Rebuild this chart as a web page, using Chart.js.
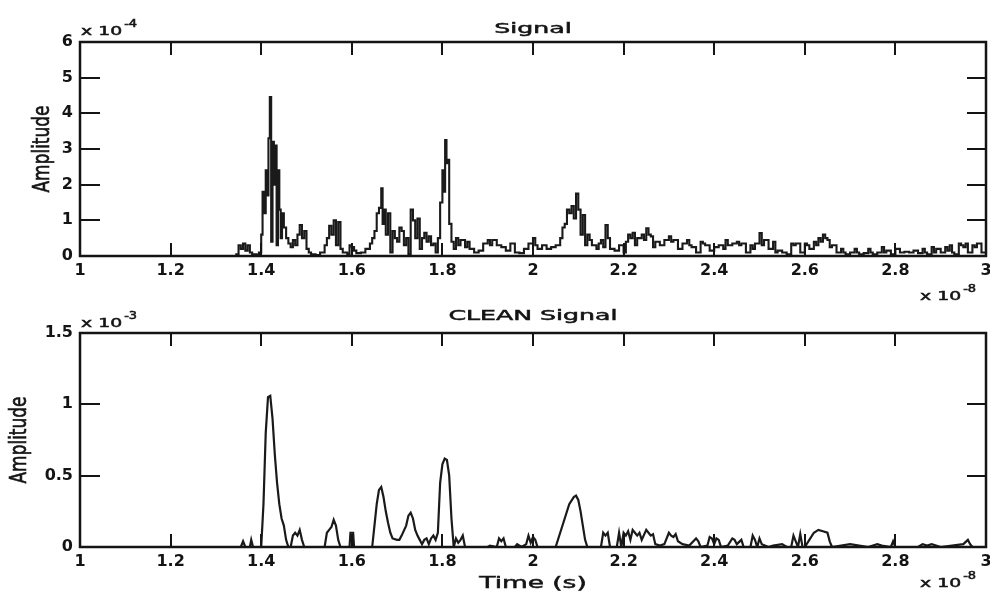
<!DOCTYPE html>
<html>
<head>
<meta charset="utf-8">
<script src="https://cdn.jsdelivr.net/npm/chart.js@4.4.0/dist/chart.umd.min.js"></script>
<style>
    html, body { margin: 0; padding: 0; background: #fff; width: 990px; height: 595px; overflow: hidden; }
    .box { position: absolute; left: 0; width: 1000px; }
</style>
</head>
<body>
<div class="box" style="top:0;height:305px"><canvas id="signal"></canvas></div>
<div class="box" style="top:290px;height:305px"><canvas id="clean"></canvas></div>
<script>
'use strict'
// time in units of 1e-8 s
var xTicks = [1, 1.2, 1.4, 1.6, 1.8, 2, 2.2, 2.4, 2.6, 2.8, 3];
var signalYTicks = [0, 1, 2, 3, 4, 5, 6];          // x 1e-4
var cleanYTicks = [0, 0.5, 1, 1.5];                // x 1e-3

/* raw signal (amplitude x 1e-4) */
var signalTime = [
    1.00, 1.34, 1.345, 1.35, 1.355, 1.36, 1.365, 1.37, 1.375, 1.38, 1.39, 1.395,
    1.40, 1.403, 1.407, 1.41, 1.413, 1.416, 1.419, 1.422, 1.425, 1.428, 1.431, 1.434, 1.437,
    1.44, 1.443, 1.446, 1.45, 1.455, 1.46, 1.465, 1.47, 1.475, 1.48, 1.485, 1.49, 1.495,
    1.50, 1.505, 1.51, 1.52, 1.53, 1.54, 1.545, 1.55, 1.555, 1.56, 1.565, 1.57, 1.575,
    1.58, 1.59, 1.595, 1.60, 1.605, 1.61, 1.62, 1.63, 1.64, 1.645, 1.65, 1.655, 1.66,
    1.665, 1.668, 1.672, 1.675, 1.68, 1.685, 1.69, 1.695, 1.70, 1.705, 1.71, 1.715, 1.72,
    1.725, 1.73, 1.735, 1.74, 1.745, 1.75, 1.755, 1.76, 1.765, 1.77, 1.775, 1.78, 1.785,
    1.79, 1.795, 1.80, 1.803, 1.806, 1.809, 1.812, 1.815, 1.82, 1.825, 1.83, 1.835, 1.84,
    1.85, 1.855, 1.86, 1.87, 1.88, 1.89, 1.90, 1.905, 1.91, 1.92, 1.93, 1.94, 1.95, 1.96,
    1.97, 1.98, 1.99, 2.00, 2.005, 2.01, 2.02, 2.03, 2.04, 2.05, 2.06, 2.065, 2.07, 2.075,
    2.08, 2.085, 2.09, 2.095, 2.10, 2.105, 2.11, 2.115, 2.12, 2.125, 2.13, 2.14, 2.145,
    2.15, 2.155, 2.16, 2.165, 2.17, 2.18, 2.19, 2.20, 2.205, 2.21, 2.215, 2.22, 2.225,
    2.23, 2.24, 2.245, 2.25, 2.255, 2.26, 2.265, 2.27, 2.28, 2.29, 2.30, 2.305, 2.31,
    2.32, 2.33, 2.34, 2.345, 2.35, 2.36, 2.37, 2.375, 2.38, 2.39, 2.40, 2.41, 2.42, 2.425,
    2.43, 2.44, 2.45, 2.455, 2.46, 2.47, 2.48, 2.485, 2.49, 2.50, 2.505, 2.51, 2.52, 2.53,
    2.535, 2.54, 2.55, 2.56, 2.57, 2.575, 2.58, 2.59, 2.60, 2.605, 2.61, 2.62, 2.625,
    2.63, 2.635, 2.64, 2.645, 2.65, 2.655, 2.66, 2.67, 2.68, 2.685, 2.69, 2.70, 2.71,
    2.715, 2.72, 2.73, 2.74, 2.745, 2.75, 2.76, 2.77, 2.775, 2.78, 2.79, 2.80, 2.81, 2.82,
    2.83, 2.84, 2.85, 2.86, 2.865, 2.87, 2.88, 2.885, 2.89, 2.90, 2.91, 2.915, 2.92,
    2.925, 2.93, 2.94, 2.945, 2.95, 2.955, 2.96, 2.97, 2.975, 2.98, 2.99, 3.00
];
var signalAmp = [
    0, 0, 0.05, 0.3, 0.2, 0.35, 0.15, 0.3, 0.1, 0.05, 0.02, 0.1,
    0.6, 1.8, 1.2, 2.4, 1.7, 3.3, 4.46, 0.4, 3.2, 2.0, 3.1, 0.3, 2.4,
    1.3, 0.5, 1.2, 0.8, 0.5, 0.35, 0.25, 0.45, 0.3, 0.6, 0.87, 0.5, 0.7,
    0.2, 0.1, 0.05, 0.03, 0.1, 0.3, 0.5, 0.85, 0.6, 1.0, 0.3, 0.95, 0.2,
    0.1, 0.05, 0.3, 0.25, 0.15, 0.08, 0.1, 0.2, 0.35, 0.5, 0.7, 1.2, 1.35,
    1.9, 0.9, 1.3, 0.6, 1.2, 0.1, 0.7, 0.5, 0.4, 0.8, 0.7, 0.3, 0.5,
    0.05, 1.3, 1.0, 0.5, 1.05, 0.2, 0.5, 0.65, 0.4, 0.55, 0.3, 0.35, 0.1,
    0.5, 1.5, 2.4, 1.8, 3.25, 2.6, 2.7, 0.9, 0.4, 0.2, 0.5, 0.3, 0.45,
    0.25, 0.4, 0.2, 0.1, 0.15, 0.35, 0.45, 0.3, 0.45, 0.3, 0.25, 0.15, 0.35, 0.1,
    0.08, 0.2, 0.35, 0.5, 0.3, 0.2, 0.3, 0.2, 0.25, 0.3, 0.5, 0.8, 0.9, 1.3,
    1.2, 1.4, 1.05, 1.75, 1.3, 0.6, 1.15, 0.3, 0.6, 0.45, 0.3, 0.2, 0.35,
    0.45, 0.25, 0.87, 0.5, 0.2, 0.15, 0.3, 0.1, 0.4, 0.6, 0.5, 0.65, 0.3,
    0.5, 0.6, 0.45, 0.78, 0.6, 0.55, 0.25, 0.4, 0.3, 0.45, 0.55, 0.4, 0.45,
    0.2, 0.35, 0.45, 0.3, 0.25, 0.1, 0.4, 0.35, 0.3, 0.15, 0.25, 0.3, 0.2, 0.45,
    0.3, 0.35, 0.4, 0.3, 0.35, 0.1, 0.3, 0.2, 0.35, 0.64, 0.3, 0.45, 0.2, 0.4,
    0.1, 0.15, 0.1, 0.05, 0.35, 0.3, 0.35, 0.1, 0.35, 0.3, 0.2, 0.4, 0.3,
    0.5, 0.4, 0.6, 0.5, 0.45, 0.25, 0.3, 0.1, 0.2, 0.1, 0.05, 0.1, 0.2,
    0.1, 0.05, 0.08, 0.2, 0.1, 0.05, 0.1, 0.25, 0.1, 0.15, 0.05, 0.2, 0.1, 0.12,
    0.1, 0.15, 0.08, 0.2, 0.1, 0.05, 0.25, 0.1, 0.2, 0.1, 0.25, 0.15, 0.3,
    0.1, 0.05, 0.35, 0.3, 0.25, 0.35, 0.1, 0.3, 0.25, 0.35, 0.1, 0.3
];

/* CLEAN signal (amplitude x 1e-3) */
var cleanTime = [
    1.00, 1.355, 1.36, 1.365, 1.375, 1.378, 1.382, 1.40, 1.405, 1.41, 1.415, 1.42,
    1.425, 1.43, 1.435, 1.44, 1.445, 1.45, 1.455, 1.46, 1.465, 1.47, 1.475, 1.48,
    1.485, 1.49, 1.495, 1.54, 1.545, 1.55, 1.555, 1.56, 1.565, 1.57, 1.575, 1.595,
    1.597, 1.603, 1.605, 1.645, 1.65, 1.655, 1.66, 1.665, 1.67, 1.675, 1.68, 1.685,
    1.69, 1.70, 1.705, 1.71, 1.72, 1.725, 1.73, 1.735, 1.74, 1.745, 1.75, 1.755, 1.76,
    1.765, 1.77, 1.775, 1.78, 1.785, 1.79, 1.795, 1.80, 1.805, 1.81, 1.815, 1.82,
    1.825, 1.83, 1.835, 1.84, 1.845, 1.85, 1.90, 1.905, 1.92, 1.925, 1.93, 1.935,
    1.94, 1.96, 1.965, 1.975, 1.985, 1.99, 1.995, 2.00, 2.005, 2.01, 2.05, 2.06,
    2.07, 2.08, 2.09, 2.095, 2.10, 2.105, 2.11, 2.115, 2.12, 2.15, 2.155, 2.16, 2.165,
    2.17, 2.185, 2.19, 2.195, 2.20, 2.205, 2.21, 2.215, 2.22, 2.225, 2.23, 2.235,
    2.24, 2.25, 2.255, 2.26, 2.265, 2.27, 2.28, 2.29, 2.30, 2.305, 2.31, 2.315, 2.32,
    2.33, 2.345, 2.36, 2.365, 2.37, 2.385, 2.39, 2.395, 2.40, 2.405, 2.41, 2.415,
    2.43, 2.44, 2.445, 2.45, 2.46, 2.465, 2.48, 2.485, 2.49, 2.495, 2.50, 2.505,
    2.52, 2.53, 2.55, 2.56, 2.57, 2.575, 2.58, 2.585, 2.59, 2.595, 2.60, 2.61, 2.62,
    2.63, 2.64, 2.65, 2.655, 2.66, 2.70, 2.72, 2.74, 2.76, 2.77, 2.79, 2.795, 2.80,
    2.85, 2.86, 2.87, 2.88, 2.90, 2.95, 2.96, 2.965, 2.97, 3.00
];
var cleanAmp = [
    0, 0, 0.04, 0, 0, 0.05, 0, 0, 0.3, 0.8, 1.05, 1.06,
    0.9, 0.65, 0.45, 0.3, 0.2, 0.15, 0.05, 0, 0, 0.08, 0.1, 0.08,
    0.12, 0.05, 0, 0, 0.1, 0.12, 0.14, 0.19, 0.15, 0.05, 0, 0,
    0.1, 0.1, 0, 0, 0.15, 0.3, 0.4, 0.42, 0.35, 0.25, 0.17, 0.1,
    0.06, 0.05, 0.05, 0.08, 0.15, 0.22, 0.24, 0.2, 0.12, 0.08, 0.05, 0.02, 0.05,
    0.06, 0.02, 0.06, 0.08, 0.05, 0.1, 0.45, 0.58, 0.62, 0.61, 0.5, 0.2,
    0, 0.06, 0.03, 0.05, 0.08, 0, 0, 0.01, 0, 0.06, 0.04, 0.06,
    0, 0, 0.02, 0, 0.02, 0.08, 0.03, 0.07, 0.05, 0, 0, 0.1,
    0.2, 0.3, 0.35, 0.36, 0.33, 0.25, 0.15, 0.05, 0, 0, 0.1, 0.08, 0.1,
    0, 0, 0.1, 0, 0.1, 0.08, 0.11, 0.05, 0.12, 0.1, 0.08, 0.1,
    0.05, 0.12, 0.1, 0.08, 0.09, 0.02, 0.01, 0.02, 0.1, 0.08, 0.07, 0.09, 0.04,
    0.02, 0.01, 0.06, 0.04, 0, 0.01, 0.07, 0.06, 0.02, 0.06, 0.05, 0,
    0.01, 0.06, 0.05, 0.02, 0.05, 0, 0, 0.08, 0.05, 0, 0.06, 0.02,
    0, 0.01, 0.02, 0, 0, 0.08, 0.04, 0, 0.09, 0, 0, 0.05, 0.1,
    0.12, 0.11, 0.1, 0.04, 0, 0.02, 0.01, 0, 0.02, 0.01, 0, 0.04, 0,
    0, 0.02, 0.01, 0.02, 0, 0.02, 0.05, 0.02, 0, 0
];

var FONT = "'DejaVu Sans', Verdana, sans-serif";
var INK = '#141414';

function pairs(xs, ys) {
    return xs.map(function (x, i) { return { x: x, y: ys[i] }; });
}

// the scanned figure is stretched sideways, so text is widened
function wideText(ctx, text, x, y, size, sx, align) {
    ctx.save();
    ctx.translate(x, y);
    ctx.scale(sx, 1);
    ctx.font = size + 'px ' + FONT;
    ctx.textAlign = align;
    ctx.textBaseline = 'alphabetic';
    ctx.fillText(text, 0, 0);
    ctx.lineWidth = 0.5;
    ctx.strokeText(text, 0, 0);
    ctx.restore();
}

function drawPower(ctx, x, y, exp) {
    ctx.font = '13px ' + FONT;
    var w = ctx.measureText('x 10').width * 1.45;
    wideText(ctx, 'x 10', x, y, 13, 1.45, 'left');
    wideText(ctx, exp, x + w + 2, y - 8, 10, 1.3, 'left');
}

/* MATLAB style box, inward ticks and labels */
var matlabFrame = {
    id: 'matlabFrame',
    afterDatasetsDraw: function (chart, args, opts) {
        var a = chart.chartArea, ctx = chart.ctx;
        var xs = chart.scales.x, ys = chart.scales.y;
        ctx.save();
        ctx.strokeStyle = INK;
        ctx.fillStyle = INK;
        ctx.lineWidth = 2;
        xs.ticks.forEach(function (t, i) {
            if (i === 0 || i === xs.ticks.length - 1) return;
            var px = Math.round(xs.getPixelForValue(t.value));
            ctx.beginPath();
            ctx.moveTo(px, a.bottom); ctx.lineTo(px, a.bottom - 13);
            ctx.moveTo(px, a.top); ctx.lineTo(px, a.top + 13);
            ctx.stroke();
        });
        ys.ticks.forEach(function (t, i) {
            if (i === 0 || i === ys.ticks.length - 1) return;
            var py = Math.round(ys.getPixelForValue(t.value));
            ctx.beginPath();
            ctx.moveTo(a.left, py); ctx.lineTo(a.left + 20, py);
            ctx.moveTo(a.right, py); ctx.lineTo(a.right - 19, py);
            ctx.stroke();
        });
        ctx.lineWidth = 2.5;
        ctx.strokeRect(a.left, a.top, a.right - a.left, a.bottom - a.top);

        wideText(ctx, opts.title, (a.left + a.right) / 2, a.top - opts.titleDy, 14, 1.8, 'center');
        drawPower(ctx, a.left + 1, a.top - opts.yExpDy, opts.yExp);
        drawPower(ctx, a.right - 66, a.bottom + opts.xExpDy, '-8');

        ctx.save();
        ctx.translate(opts.yLabelX, (a.top + a.bottom) / 2);
        ctx.rotate(-Math.PI / 2);
        ctx.scale(1, 1.3);
        ctx.font = '17px ' + FONT;
        ctx.textAlign = 'center';
        ctx.textBaseline = 'middle';
        ctx.fillText('Amplitude', 0, 0);
        ctx.lineWidth = 0.5;
        ctx.strokeText('Amplitude', 0, 0);
        ctx.restore();

        if (opts.xLabel) {
            wideText(ctx, opts.xLabel, (a.left + a.right) / 2, a.bottom + 41, 16, 1.65, 'center');
        }
        ctx.restore();
    }
};

function makeChart(id, xsData, ysData, yTicks, opts) {
    var ctx = document.getElementById(id).getContext('2d');
    return new Chart(ctx, {
        type: 'line',
        data: {
            datasets: [{
                data: pairs(xsData, ysData),
                borderColor: '#1a1a1a',
                borderWidth: opts.lineWidth,
                pointRadius: 0,
                stepped: opts.stepped,
                tension: 0,
                fill: false
            }]
        },
        plugins: [matlabFrame],
        options: {
            responsive: true,
            maintainAspectRatio: false,
            animation: false,
            layout: { padding: { top: opts.padTop, right: 14, left: 0, bottom: 0 } },
            plugins: {
                legend: { display: false },
                tooltip: { enabled: false },
                matlabFrame: opts
            },
            scales: {
                x: {
                    type: 'linear',
                    min: xTicks[0],
                    max: xTicks[xTicks.length - 1],
                    afterBuildTicks: function (s) { s.ticks = xTicks.map(function (v) { return { value: v }; }); },
                    afterFit: function (s) { s.height = opts.xHeight; },
                    grid: { display: false, drawTicks: false },
                    border: { display: false },
                    ticks: {
                        color: INK,
                        padding: 5,
                        maxRotation: 0,
                        autoSkip: false,
                        font: { family: FONT, size: 16, weight: 'bold' },
                        callback: function (v) { return String(v); }
                    }
                },
                y: {
                    min: yTicks[0],
                    max: yTicks[yTicks.length - 1],
                    afterBuildTicks: function (s) { s.ticks = yTicks.map(function (v) { return { value: v }; }); },
                    afterFit: function (s) { s.width = 80; },
                    grid: { display: false, drawTicks: false },
                    border: { display: false },
                    ticks: {
                        color: INK,
                        padding: 7,
                        autoSkip: false,
                        font: { family: FONT, size: 16, weight: 'bold' },
                        callback: function (v) { return String(v); }
                    }
                }
            }
        }
    });
}

var signalChart = makeChart('signal', signalTime, signalAmp, signalYTicks, {
    title: 'Signal', titleDy: 9, yExp: '-4', yExpDy: 7, yLabelX: 43, xExpDy: 44,
    padTop: 42, xHeight: 49, stepped: true, lineWidth: 2.1
});
var cleanChart = makeChart('clean', cleanTime, cleanAmp, cleanYTicks, {
    title: 'CLEAN Signal', titleDy: 13, yExp: '-3', yExpDy: 6, yLabelX: 20, xExpDy: 40, xLabel: 'Time (s)',
    padTop: 43, xHeight: 48, stepped: false, lineWidth: 2.2
});
</script>
</body>
</html>
